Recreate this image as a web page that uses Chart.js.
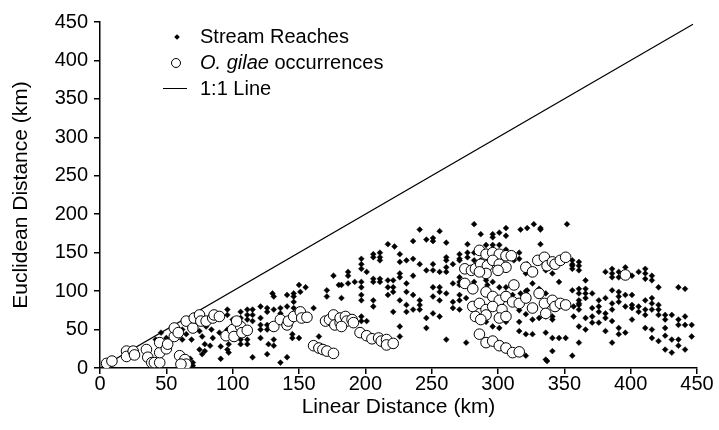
<!DOCTYPE html>
<html>
<head>
<meta charset="utf-8">
<script src="https://cdn.jsdelivr.net/npm/chart.js@4/dist/chart.umd.min.js"></script>
<style>
  html, body { margin: 0; padding: 0; background: #fff; }
  #wrap { position: relative; width: 719px; height: 430px; }
  #legend { position: absolute; left: 0; top: 0; font-family: 'Liberation Sans', Arial, sans-serif; font-size: 20px; color: #000; }
  .lt { position: absolute; left: 200px; line-height: 24px; white-space: nowrap; }
  .mk { position: absolute; }
</style>
</head>
<body>
<div id="wrap">
  <canvas id="c" width="719" height="430"></canvas>
  <div id="legend">
    <div class="mk" style="left:175px;top:35px;width:4px;height:4px;background:#000;transform:rotate(45deg);"></div>
    <div class="lt" style="top:24px;" id="lg0"></div>
    <div class="mk" style="left:171px;top:58px;width:8px;height:8px;border:1px solid #000;border-radius:50%;background:#fff;"></div>
    <div class="lt" style="top:50px;"><i>O. gilae</i> occurrences</div>
    <div class="mk" style="left:163px;top:88px;width:24px;height:0;border-top:1px solid #000;"></div>
    <div class="lt" style="top:76px;" id="lg2"></div>
  </div>
</div>
<script>
const axisTicks = [0, 50, 100, 150, 200, 250, 300, 350, 400, 450];
const xTitle = 'Linear Distance (km)';
const yTitle = 'Euclidean Distance (km)';
const seriesNames = ['Stream Reaches', 'O. gilae occurrences', '1:1 Line'];

const lineX = [0, 447];
const lineY = [0, 447];

const streamReaches = [
 [46,46],[42,37],[50,39],[62,50],[62,37],[65,44],[69,37],[70,7],[70,3],[75,48],[77,41],[75,24],[77,18],[79,31],[80,54],[83,29],[84,50],[85,39],[79,22],[68,12],
 [90,46],[91,28],[91,12],
 [96,76],[96,69],[100,63],[101,56],[96,50],[97,31],[96,24],[97,20],
 [106,73],[106,65],[106,59],[106,37],[106,31],
 [111,76],[111,69],[111,63],[111,37],[111,31],
 [115,76],[115,69],[115,61],[115,14],
 [121,80],[121,65],[121,56],[121,50],[121,39],
 [126,78],[126,73],[126,56],[126,50],[127,31],[126,18],
 [131,76],[131,37],[131,29],
 [136,78],[136,71],[136,7],
 [141,80],[141,14],
 [146,97],[146,93],[146,86],[146,78],
 [141,95],[151,99],[155,105],[150,108],
 [145,44],[145,39],[150,39],
 [131,93],[130,97],
 [161,78],[165,41],
 [171,101],[171,93],[176,120],[180,108],
 [182,108],[182,91],[187,125],[187,120],[187,110],[192,112],
 [197,142],[197,135],[197,129],[197,112],[197,105],[197,95],[197,88],[197,67],[197,61],[201,61],
 [201,125],
 [206,148],[206,144],[206,116],[206,112],[206,88],[206,80],
 [211,150],[211,144],[211,140],[211,116],[211,112],
 [217,161],[222,158],
 [217,114],[217,105],[217,95],[221,114],[221,105],[221,99],
 [221,73],
 [226,148],[226,138],[226,123],[226,118],[226,88],
 [226,54],[226,41],
 [231,140],[231,110],[231,99],[231,82],[231,73],
 [236,165],[236,142],[236,120],[236,95],[236,76],
 [241,180],[241,135],[241,88],[241,82],[241,76],
 [246,167],[246,127],[246,65],[246,52],
 [251,169],[251,165],[251,135],[251,127],[251,105],[251,93],[251,71],
 [256,178],[256,125],[256,105],[256,99],[256,88],[256,67],
 [261,163],[261,144],[261,140],[261,131],[261,125],[261,97],[261,37],
 [266,135],[266,110],[266,86],[266,78],
 [271,148],[271,140],[271,112],[271,108],
 [282,187],[287,174],[296,174],[296,170],[301,176],[306,182],[306,172],[317,180],[322,182],[327,187],[332,182],[352,187],[332,161],
 [277,161],[271,142],[277,150],[277,144],[282,150],[287,140],[306,154],[316,150],[316,142],[312,140],
 [271,118],[271,95],[271,88],[271,76],[276,108],[276,91],[282,112],[291,114],[292,108],[296,112],[301,105],[306,105],[306,97],[317,97],[322,101],[326,110],[331,103],[336,97],[341,67],[346,112],[356,101],[357,80],[357,67],[361,103],[361,84],
 [356,140],[356,135],
 [321,123],[322,135],[336,127],[341,123],
 [296,54],[301,52],[316,48],[321,44],[326,44],[276,33],[336,46],[341,39],[346,39],[351,39],[341,22],[356,16],[336,11],[321,16],
 [336,67],[341,63],[326,63],[331,65],
 [282,140],[291,160],[296,160],[301,160],[311,95],[291,60],[306,60],[316,60],[321,70],[326,80],[316,75],[321,100],
 [356,133],[356,129],[361,138],[361,133],[361,127],[332,180],[337,9],[361,33],
 [361,97],[361,88],[361,82],[361,76],[361,54],
 [366,114],[366,103],[366,97],[366,91],[366,65],[366,50],[371,97],[371,78],[371,67],
 [371,59],[376,88],[376,80],[376,59],[376,73],
 [381,125],[381,91],[381,71],[381,65],[381,48],
 [386,129],[386,123],[386,118],[386,101],[386,84],[386,76],[386,61],[386,33],
 [391,125],[391,118],[391,99],[391,93],[391,86],[391,52],[391,44],
 [396,131],[396,95],[396,80],[396,46],
 [401,120],[401,95],[401,82],[401,78],[401,63],
 [406,125],[406,80],[406,73],
 [411,129],[411,123],[411,116],[411,88],[411,76],[411,69],[411,52],
 [416,120],[416,114],[416,91],[416,84],[416,76],[416,50],[416,39],
 [421,105],[421,82],[421,76],[421,69],[421,35],
 [426,69],[426,63],[426,52],[426,42],[426,24],
 [431,69],[431,37],[431,20],
 [436,105],[436,63],[436,56],[436,37],[436,29],
 [441,103],[441,67],[441,56],[441,24],
 [446,56],[446,41]
];

const gilaeOccurrences = [
 [5,6],[9,9],[20,22],[20,15],[25,22],[26,17],[35,24],[36,14],[39,7],[41,7],[45,7],[45,20],[45,33],[50,25],[51,31],
 [56,41],[56,52],[59,46],[60,16],[64,11],[65,5],[61,5],[65,61],[70,52],[71,65],[75,69],[76,61],[80,61],[85,65],[86,69],[90,67],
 [95,42],[100,50],[101,41],[106,54],[107,46],[111,49],[103,61],
 [131,54],[136,63],[141,56],[142,61],[146,67],[151,73],[152,65],[156,66],
 [161,29],[165,26],[168,24],[171,22],[176,19],
 [170,61],[173,63],[176,69],[177,56],[181,59],[181,65],[185,67],[186,61],[190,63],[182,54],[191,59],
 [196,46],[201,42],[205,38],[210,39],[212,35],[216,37],[216,30],[221,32],
 [286,153],[291,148],[296,150],[301,148],[306,146],[310,146],
 [275,129],[280,127],[283,129],[287,135],[292,133],[296,140],[301,135],[306,131],[300,127],[291,123],[286,125],
 [275,110],[281,103],[291,99],[296,93],[301,88],[306,93],[312,108],
 [281,80],[286,84],[291,76],[296,80],[303,76],[311,86],[316,84],
 [283,67],[291,69],[301,65],[306,67],[287,63],
 [321,131],[326,125],[330,140],[335,144],[337,133],[341,138],[343,135],[347,140],[351,144],
 [321,91],[326,78],[331,97],[335,84],[341,88],[343,80],[347,84],[351,82],[336,71],
 [286,44],[291,33],[296,35],[301,29],[306,26],[311,20],[316,21],
 [396,121]
];

document.getElementById('lg0').textContent = seriesNames[0];
document.getElementById('lg2').textContent = seriesNames[2];

const FONT = "'Liberation Sans', Arial, sans-serif";
const toPts = arr => arr.map(([x, y]) => ({x, y}));

function axis(titleText, isX) {
  return {
    type: 'linear',
    min: axisTicks[0],
    max: axisTicks[axisTicks.length - 1],
    afterBuildTicks: s => { s.ticks = axisTicks.map(v => ({value: v})); },
    ticks: { color: '#000', font: { family: FONT, size: 20 }, padding: isX ? -2 : 6, maxRotation: 0, autoSkip: false },
    grid: { display: true, drawOnChartArea: false, drawTicks: true, tickLength: 6, color: '#000', lineWidth: 1.5 },
    border: { display: true, color: '#000', width: 1.5 },
    title: { display: true, text: titleText, color: '#000', font: { family: FONT, size: 21 },
             padding: isX ? {top: 0, bottom: 10} : {top: 9, bottom: 0} },
    afterFit: s => { if (isX) s.height = 62; else s.width = 100; }
  };
}

new Chart(document.getElementById('c'), {
  type: 'scatter',
  data: {
    datasets: [
      { label: seriesNames[2], data: lineX.map((x, i) => ({x, y: lineY[i]})), showLine: true,
        borderColor: '#000', borderWidth: 1.2, pointRadius: 0, order: 3 },
      { label: seriesNames[0], data: toPts(streamReaches), pointStyle: 'rectRot', pointRadius: 2.9,
        backgroundColor: '#000', borderColor: '#000', borderWidth: 0.5, order: 2 },
      { label: seriesNames[1], data: toPts(gilaeOccurrences), pointStyle: 'circle', pointRadius: 5.3,
        backgroundColor: '#fff', borderColor: '#000', borderWidth: 1, order: 1 }
    ]
  },
  options: {
    responsive: false,
    animation: false,
    devicePixelRatio: 1,
    layout: { padding: { top: 22, right: 22, left: 0, bottom: 0 } },
    plugins: { legend: { display: false }, tooltip: { enabled: false } },
    scales: { x: axis(xTitle, true), y: axis(yTitle, false) }
  }
});
</script>
</body>
</html>
